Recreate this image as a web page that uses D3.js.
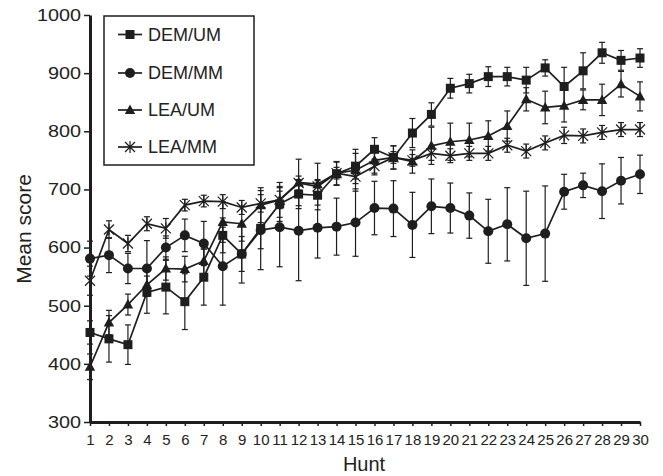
<!DOCTYPE html>
<html>
<head>
<meta charset="utf-8">
<script src="https://cdn.jsdelivr.net/npm/d3@7"></script>
<style>
  body { margin: 0; background: #fff; }
  svg { display: block; font-family: "Liberation Sans", Arial, sans-serif; }
</style>
</head>
<body>
<svg id="chart" width="663" height="476"></svg>
<script>
// ---- data ----
const hunts = d3.range(1, 31);
const yTicks = [300, 400, 500, 600, 700, 800, 900, 1000];
const seriesNames = ["DEM/UM", "DEM/MM", "LEA/UM", "LEA/MM"];

const demUM    = [454, 443, 433, 523, 532, 507, 549, 621, 589, 633, 675, 692, 690, 727, 740, 769, 755, 797, 829, 874, 882, 894, 894, 888, 909, 877, 904, 935, 922, 926];
const demUMErr = [20, 40, 34, 36, 46, 48, 48, 30, 30, 35, 30, 25, 25, 20, 22, 20, 20, 25, 20, 17, 16, 17, 16, 22, 14, 33, 31, 18, 17, 16];

const demMM    = [581, 587, 564, 564, 600, 621, 607, 568, 589, 630, 635, 629, 634, 636, 643, 668, 667, 639, 671, 668, 655, 628, 640, 616, 624, 696, 707, 697, 715, 726];
const demMMErr = [30, 30, 26, 48, 20, 28, 38, 67, 50, 68, 68, 86, 52, 49, 58, 46, 48, 56, 47, 43, 39, 55, 63, 81, 82, 30, 21, 47, 40, 33];

const leaUM    = [395, 471, 502, 536, 564, 563, 577, 644, 641, 673, 682, 712, 709, 728, 733, 750, 755, 748, 775, 782, 785, 792, 809, 855, 841, 844, 854, 854, 881, 860];
const leaUMErr = [22, 21, 18, 15, 20, 22, 22, 35, 30, 30, 30, 40, 36, 20, 36, 25, 20, 20, 32, 32, 29, 26, 26, 20, 28, 28, 17, 27, 22, 25];

const leaMM    = [543, 631, 607, 641, 633, 673, 680, 679, 669, 676, 682, 711, 705, 728, 722, 740, 755, 750, 762, 758, 762, 762, 776, 766, 780, 793, 792, 798, 803, 803];
const leaMMErr = [25, 15, 14, 12, 17, 10, 10, 12, 12, 15, 15, 12, 12, 10, 12, 12, 10, 10, 12, 12, 12, 12, 12, 12, 12, 14, 12, 12, 12, 12];

const seriesList = [
  { name: "DEM/MM", values: demMM, errs: demMMErr, marker: "circle" },
  { name: "LEA/MM", values: leaMM, errs: leaMMErr, marker: "cross" },
  { name: "LEA/UM", values: leaUM, errs: leaUMErr, marker: "triangle" },
  { name: "DEM/UM", values: demUM, errs: demUMErr, marker: "square" }
];
const legendOrder = [
  { name: "DEM/UM", marker: "square" },
  { name: "DEM/MM", marker: "circle" },
  { name: "LEA/UM", marker: "triangle" },
  { name: "LEA/MM", marker: "cross" }
];

// ---- layout ----
const svg = d3.select("#chart");
const ink = "#1e1e1e";
const x = d3.scaleLinear().domain([1, 30]).range([90, 640]);
const y = d3.scaleLinear().domain([300, 1000]).range([422, 15]);

function drawMarker(g, type, cx, cy) {
  if (type === "square") {
    g.append("rect").attr("x", cx - 4.5).attr("y", cy - 4.5).attr("width", 9).attr("height", 9).attr("fill", ink);
  } else if (type === "circle") {
    g.append("circle").attr("cx", cx).attr("cy", cy).attr("r", 5).attr("fill", ink);
  } else if (type === "triangle") {
    g.append("path").attr("d", `M${cx},${cy - 5.5}L${cx + 5.2},${cy + 4}L${cx - 5.2},${cy + 4}Z`).attr("fill", ink);
  } else {
    g.append("path").attr("d", `M${cx - 5},${cy - 5}L${cx + 5},${cy + 5}M${cx - 5},${cy + 5}L${cx + 5},${cy - 5}M${cx},${cy - 6}L${cx},${cy + 6}`)
      .attr("stroke", ink).attr("stroke-width", 1.2).attr("fill", "none");
  }
}

// error bars
const errG = svg.append("g");
seriesList.forEach(s => {
  s.values.forEach((v, i) => {
    const cx = x(hunts[i]);
    const y1 = y(v - s.errs[i]), y2 = y(v + s.errs[i]);
    errG.append("line").attr("x1", cx).attr("x2", cx).attr("y1", y1).attr("y2", y2).attr("stroke", ink).attr("stroke-width", 1.2);
    [y1, y2].forEach(yy => errG.append("line").attr("x1", cx - 3).attr("x2", cx + 3).attr("y1", yy).attr("y2", yy).attr("stroke", ink).attr("stroke-width", 1.2));
  });
});

// lines
const line = d3.line().x((d, i) => x(hunts[i])).y(d => y(d));
seriesList.forEach(s => {
  svg.append("path").attr("d", line(s.values)).attr("fill", "none").attr("stroke", ink).attr("stroke-width", 1.7);
});

// markers
seriesList.forEach(s => {
  const g = svg.append("g");
  s.values.forEach((v, i) => drawMarker(g, s.marker, x(hunts[i]), y(v)));
});

// axes
const yAxis = svg.append("g").attr("transform", "translate(90,0)")
  .call(d3.axisLeft(y).tickValues(yTicks).tickSize(6).tickSizeOuter(0).tickFormat(d3.format("d")));
yAxis.select(".domain").attr("stroke", ink).attr("stroke-width", 3);
yAxis.selectAll(".tick line").attr("stroke", ink).attr("stroke-width", 1.5);
yAxis.selectAll(".tick text").attr("font-size", 16.5).attr("fill", "#222").attr("x", 0)
  .attr("transform", "translate(-9,0) scale(1.2,1)").attr("font-family", "Liberation Sans, Arial, sans-serif");

const xAxis = svg.append("g").attr("transform", "translate(0,422)")
  .call(d3.axisBottom(x).tickValues(hunts).tickSize(4).tickSizeOuter(0).tickPadding(8).tickFormat(d3.format("d")));
xAxis.select(".domain").attr("stroke", ink).attr("stroke-width", 3);
xAxis.selectAll(".tick line").attr("stroke", ink).attr("stroke-width", 1.5);
xAxis.selectAll(".tick text").attr("font-size", 15).attr("fill", "#222").attr("font-family", "Liberation Sans, Arial, sans-serif");

// axis titles
svg.append("text").attr("x", 364).attr("y", 471).attr("text-anchor", "middle").attr("font-size", 20).attr("fill", "#222").text("Hunt");
svg.append("text").attr("transform", "translate(31,229) rotate(-90)").attr("text-anchor", "middle").attr("font-size", 21).attr("fill", "#222").text("Mean score");

// legend
const lg = svg.append("g");
lg.append("rect").attr("x", 104).attr("y", 16).attr("width", 150).attr("height", 149).attr("fill", "#fff").attr("stroke", ink).attr("stroke-width", 1.5);
const rowY = [34.5, 73, 110, 147];
legendOrder.forEach((d, i) => {
  const ry = rowY[i];
  lg.append("line").attr("x1", 118).attr("x2", 142).attr("y1", ry).attr("y2", ry).attr("stroke", ink).attr("stroke-width", 1.7);
  drawMarker(lg, d.marker, 130, ry);
  lg.append("text").attr("x", 148).attr("y", ry).attr("dy", "0.36em").attr("font-size", 18).attr("fill", "#222").text(d.name);
});
</script>
</body>
</html>
